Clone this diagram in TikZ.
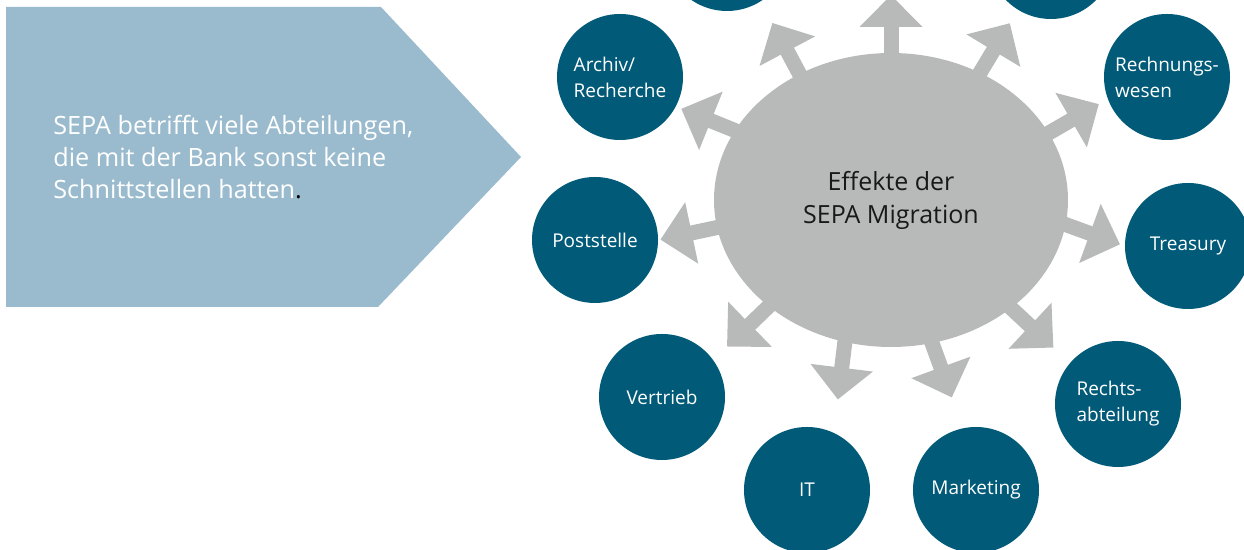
\documentclass[tikz,border=0pt]{standalone}
\usepackage{fontspec}
\setmainfont{Open Sans}
\usetikzlibrary{shapes.geometric}
\usetikzlibrary{arrows.meta}
\usetikzlibrary{positioning}

\definecolor{sepablue}{HTML}{9ABBCE}
\definecolor{deptteal}{HTML}{005A78}
\definecolor{miggray}{HTML}{B8BAB9}

\tikzset{
  dept/.style={circle, fill=deptteal, text=white, minimum size=63pt, inner sep=0pt,
    align=left, font=\fontsize{9.5}{13}\selectfont},
  spoke/.style={draw=miggray, line width=7.5pt, -{Triangle[length=16pt, width=30.5pt]}},
}

\begin{document}
\begin{tikzpicture}[x=0.5pt, y=0.5pt]
\useasboundingbox (0,0) rectangle (1244,550);
\clip (0,0) rectangle (1244,550);

%intro
\fill[sepablue] (6,543) -- (381,543) -- (521,393) -- (378,243) -- (6,243) -- cycle;
\node (intro) [anchor=west, inner sep=0pt, align=left, text=white, font=\fontsize{12.6}{15.8}\selectfont]
  at (53,393) {SEPA betrifft viele Abteilungen,\\die mit der Bank sonst keine\\Schnittstellen hatten\textcolor{black}{.}};

%center
\node (mig) [ellipse, fill=miggray, minimum width=177pt, minimum height=147pt,
  inner sep=0pt, outer sep=0pt, align=center, text=black!90,
  font=\fontsize{12.5}{16.5}\selectfont] at (891,350) {Effekte der\\SEPA Migration};

%spokes
\foreach \a/\d in {90/90, 126/118, 55/59, 156/158, 23/30, 189/192, -8/-20,
                   221/224, -42/-43, 252/263, -74/-70}
  \draw[spoke] (mig.\a) ++(\d+180:20) -- ++(\d:78);

%departments
\node (topl) [dept] at (727,602) {};
\node (topr) [dept] at (1051,594) {};
\node (archiv) [dept] at (620,473) {Archiv/\\Recherche};
\node (rewe) [dept] at (1167,473) {Rechnungs-\\wesen};
\node (post) [dept] at (595,310) {Poststelle};
\node (treasury) [dept] at (1188,304) {Treasury};
\node (vertrieb) [dept] at (662,153) {Vertrieb};
\node (recht) [dept] at (1118,146) {Rechts-\\abteilung};
\node (it) [dept] at (807,60) {IT};
\node (marketing) [dept] at (976,60) {Marketing};

\end{tikzpicture}
\end{document}
